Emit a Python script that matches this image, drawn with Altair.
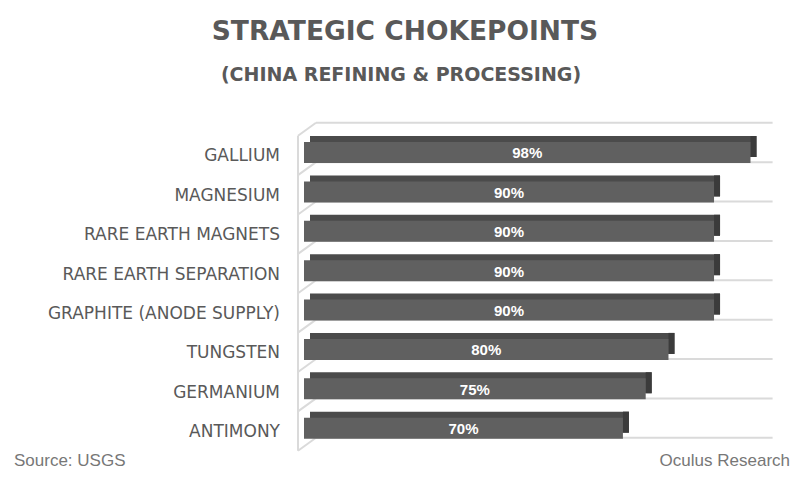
import altair as alt
import pandas as pd

# ---- data ----
categories = [
    "GALLIUM",
    "MAGNESIUM",
    "RARE EARTH MAGNETS",
    "RARE EARTH SEPARATION",
    "GRAPHITE (ANODE SUPPLY)",
    "TUNGSTEN",
    "GERMANIUM",
    "ANTIMONY",
]
shares = [98, 90, 90, 90, 90, 80, 75, 70]
value_labels = ["98%", "90%", "90%", "90%", "90%", "80%", "75%", "70%"]

title_text = "STRATEGIC CHOKEPOINTS"
subtitle_text = "(CHINA REFINING & PROCESSING)"
source_text = "Source: USGS"
credit_text = "Oculus Research"

# ---- tables ----
n = len(categories)
df = pd.DataFrame({
    "cat": categories,
    "share": shares,
    "label": value_labels,
    "idx": list(range(n)),
})
bounds = pd.DataFrame({"k": list(range(n + 1))})

xsc = alt.Scale(domain=[0, 100], nice=False, zero=True)
ysc = alt.Scale(domain=[0, n], reverse=True, nice=False, zero=False)

FRONT = "#606060"
TOP = "#4b4b4b"
SIDE = "#3b3b3b"
GRID = "#dadada"
TXT = "#595959"

bars_base = alt.Chart(df).transform_calculate(
    top="datum.idx + 0.234", bot="datum.idx + 0.767", zero="0", mid="datum.idx + 0.5"
)

# back wall gridlines
grid = alt.Chart(bounds).transform_calculate(x0="0", x1="100").mark_rule(
    color=GRID, strokeWidth=2, xOffset=12, x2Offset=13, yOffset=-10, y2Offset=-10
).encode(
    x=alt.X("x0:Q", scale=xsc, axis=None),
    x2="x1:Q",
    y=alt.Y("k:Q", scale=ysc, axis=None),
    y2="k:Q",
)

# left wall: vertical edge and diagonals
wall_v = alt.Chart(pd.DataFrame({"a": [0], "b": [n]})).transform_calculate(x0="0").mark_rule(
    color=GRID, strokeWidth=2, xOffset=-6, x2Offset=-6, yOffset=3, y2Offset=3
).encode(
    x=alt.X("x0:Q", scale=xsc, axis=None),
    x2="x0:Q",
    y=alt.Y("a:Q", scale=ysc, axis=None),
    y2="b:Q",
)

wall_d = alt.Chart(bounds).transform_calculate(x0="0").mark_rule(
    color=GRID, strokeWidth=2, xOffset=-6, x2Offset=12, yOffset=3, y2Offset=-10
).encode(
    x=alt.X("x0:Q", scale=xsc, axis=None),
    x2="x0:Q",
    y=alt.Y("k:Q", scale=ysc, axis=None),
    y2="k:Q",
)

# 3D bars: top face, side face, front face
top_face = bars_base.mark_rect(
    color=TOP, xOffset=6, x2Offset=6, yOffset=-6, y2Offset=-6
).encode(
    x=alt.X("zero:Q", scale=xsc, axis=None),
    x2="share:Q",
    y=alt.Y("top:Q", scale=ysc, axis=None),
    y2="bot:Q",
)

side_face = bars_base.mark_rect(
    color=SIDE, xOffset=0, x2Offset=6, yOffset=-6, y2Offset=-6
).encode(
    x=alt.X("share:Q", scale=xsc, axis=None),
    x2="share:Q",
    y=alt.Y("top:Q", scale=ysc, axis=None),
    y2="bot:Q",
)

front_face = bars_base.mark_rect(color=FRONT).encode(
    x=alt.X("zero:Q", scale=xsc, axis=None),
    x2="share:Q",
    y=alt.Y("top:Q", scale=ysc, axis=None),
    y2="bot:Q",
    tooltip=["cat:N", "share:Q"],
)

value_text = bars_base.transform_calculate(half="datum.share / 2").mark_text(
    font="Liberation Sans", fontSize=15, fontWeight="bold", color="white",
    align="center", baseline="middle", dy=1
).encode(
    x=alt.X("half:Q", scale=xsc, axis=None),
    y=alt.Y("mid:Q", scale=ysc, axis=None),
    text="label:N",
)

cat_text = bars_base.mark_text(
    font="DejaVu Sans", fontSize=17, color=TXT, align="right", baseline="middle", dy=4
).encode(
    x=alt.value(-24),
    y=alt.Y("mid:Q", scale=ysc, axis=None),
    text="cat:N",
)

title = alt.Chart(pd.DataFrame({"t": [title_text]})).mark_text(
    font="DejaVu Sans", fontSize=26.5, fontWeight="bold", color=TXT,
    align="center", baseline="alphabetic"
).encode(text="t:N", x=alt.value(101), y=alt.value(-93))

subtitle = alt.Chart(pd.DataFrame({"t": [subtitle_text]})).mark_text(
    font="DejaVu Sans", fontSize=19, fontWeight="bold", color=TXT,
    align="center", baseline="alphabetic"
).encode(text="t:N", x=alt.value(97), y=alt.value(-52))

source = alt.Chart(pd.DataFrame({"t": [source_text]})).mark_text(
    font="Liberation Sans", fontSize=17, color="#777777",
    align="left", baseline="alphabetic"
).encode(text="t:N", x=alt.value(-290), y=alt.value(333))

credit = alt.Chart(pd.DataFrame({"t": [credit_text]})).mark_text(
    font="Liberation Sans", fontSize=17, color="#777777",
    align="right", baseline="alphabetic"
).encode(text="t:N", x=alt.value(486), y=alt.value(333))

chart = alt.layer(
    grid, wall_v, wall_d, top_face, side_face, front_face, value_text,
    cat_text, title, subtitle, source, credit
).properties(
    width=455.6,
    height=315,
    padding={"left": 296, "top": 124.8, "right": 32.4, "bottom": 21.2},
    autosize=alt.AutoSizeParams(type="none"),
).configure(background="white").configure_view(stroke=None)

chart.save("out.html", embed_options={"renderer": "svg", "actions": False})
